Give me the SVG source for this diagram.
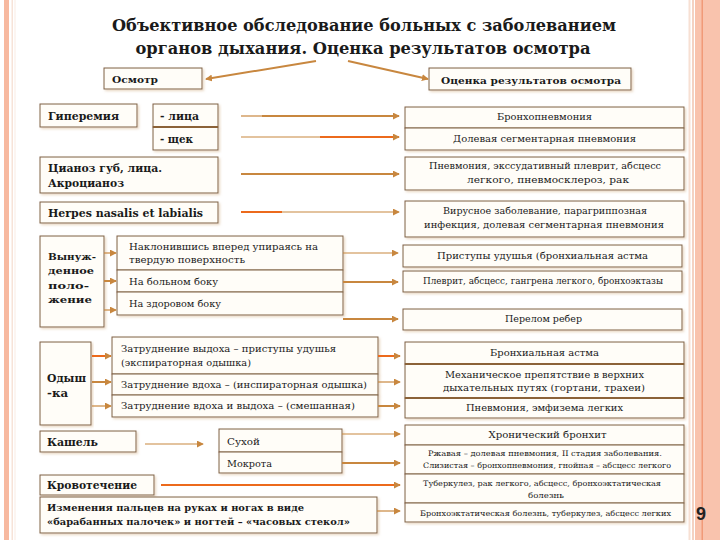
<svg xmlns="http://www.w3.org/2000/svg" width="720" height="540" viewBox="0 0 720 540">
<style>
.box{fill:#fffdf8;stroke:#7d5e40;stroke-width:1;filter:url(#sh)}
.t{font-family:"DejaVu Serif","Liberation Serif",serif;fill:#1a1a1a}
.b{font-weight:bold}
.r{font-size:9.5px}
.m{font-size:10px}
.s{font-size:7.5px}
.l{font-size:11px;font-weight:bold}
.c{text-anchor:middle}
.ln{stroke:#c8873f;stroke-width:2;fill:none}
.or{stroke:#ec6a1c;stroke-width:2;fill:none}
.th{stroke:#c8873f;stroke-width:1.2;fill:none}
.dv{stroke:#8b6238;stroke-width:2}
</style>
<defs>
<marker id="ah" viewBox="0 0 8 8" refX="7" refY="4" markerWidth="7" markerHeight="7" markerUnits="userSpaceOnUse" orient="auto">
<path d="M0,0 L8,4 L0,8 z" fill="#c8873f"/>
</marker>
<filter id="sh" x="-5%" y="-10%" width="110%" height="130%">
<feDropShadow dx="1.5" dy="1.5" stdDeviation="0.8" flood-color="#e6d2bb" flood-opacity="0.9"/>
</filter>
</defs>
<rect x="0" y="0" width="720" height="540" fill="#ffffff"/>
<g id="decor">
<rect x="4" y="0" width="5" height="540" fill="#f7b9a0"/>
<rect x="11.5" y="0" width="1.5" height="540" fill="#f7e3d8"/>
<rect x="14.5" y="0" width="1" height="540" fill="#f9ece4"/>
<rect x="688.5" y="0" width="2" height="540" fill="#f7e0d3"/>
<rect x="692" y="0" width="2" height="540" fill="#f4d2c2"/>
<rect x="695" y="0" width="25" height="540" fill="#f9c3ad"/>
<rect x="701.5" y="0" width="1.5" height="540" fill="#f19a78"/>
<text x="696" y="520" style="font-family:'Liberation Sans',Arial,sans-serif;font-weight:bold;font-size:18px;fill:#222">9</text>
</g>
<g id="title">
<text class="t b" x="364" y="31" text-anchor="middle" font-size="17" textLength="504" lengthAdjust="spacingAndGlyphs">Объективное обследование больных с заболеванием</text>
<text class="t b" x="363" y="54" text-anchor="middle" font-size="17" textLength="455" lengthAdjust="spacingAndGlyphs">органов дыхания. Оценка результатов осмотра</text>
</g>
<g id="n-osmotr"><rect class="box" x="104" y="68" width="98" height="21"/><text class="t b" x="112" y="83" font-size="9.5" textLength="46" lengthAdjust="spacingAndGlyphs">Осмотр</text></g>
<g id="n-ocenka"><rect class="box" x="429" y="68" width="202" height="22"/><text class="t b c" x="531" y="84" font-size="9.5" textLength="180" lengthAdjust="spacingAndGlyphs">Оценка результатов  осмотра</text></g>

<g id="n-giperemia"><rect class="box" x="40" y="104" width="97" height="23"/><text class="t l" x="48" y="120" textLength="71" lengthAdjust="spacingAndGlyphs">Гиперемия</text></g>
<g id="n-lica"><rect class="box" x="153" y="104" width="65" height="23"/><text class="t l" x="160" y="120" textLength="39" lengthAdjust="spacingAndGlyphs">- лица</text></g>
<g id="n-shek"><rect class="box" x="153" y="127" width="65" height="23"/><text class="t l" x="160" y="143" textLength="33" lengthAdjust="spacingAndGlyphs">- щек</text><line class="dv" x1="153" y1="127" x2="218" y2="127"/></g>
<g id="n-cianoz"><rect class="box" x="40" y="157" width="178" height="36"/><text class="t l" x="48" y="172" textLength="114" lengthAdjust="spacingAndGlyphs">Цианоз губ, лица.</text><text class="t l" x="48" y="187" textLength="76" lengthAdjust="spacingAndGlyphs">Акроцианоз</text></g>
<g id="n-herpes"><rect class="box" x="40" y="202" width="178" height="21"/><text class="t l" x="48" y="217" textLength="155" lengthAdjust="spacingAndGlyphs">Herpes nasalis et labialis</text></g>
<g id="n-vynuzh"><rect class="box" x="40" y="236" width="64" height="91"/>
<text class="t b" x="48" y="260" font-size="10" textLength="48" lengthAdjust="spacingAndGlyphs">Вынуж-</text><text class="t b" x="48" y="274" font-size="10" textLength="46" lengthAdjust="spacingAndGlyphs">денное</text><text class="t b" x="48" y="289" font-size="10" textLength="41" lengthAdjust="spacingAndGlyphs">поло-</text><text class="t b" x="48" y="303" font-size="10" textLength="44" lengthAdjust="spacingAndGlyphs">жение</text></g>
<g id="n-naklon"><rect class="box" x="117" y="236" width="226" height="34"/><text class="t m" x="129" y="250" textLength="189" lengthAdjust="spacingAndGlyphs">Наклонившись вперед упираясь на</text><text class="t m" x="129" y="263" textLength="116" lengthAdjust="spacingAndGlyphs">твердую поверхность</text></g>
<g id="n-bolnom"><rect class="box" x="117" y="270" width="226" height="22"/><text class="t m" x="129" y="285" textLength="89" lengthAdjust="spacingAndGlyphs">На больном боку</text></g>
<g id="n-zdorov"><rect class="box" x="117" y="292" width="226" height="23"/><text class="t m" x="129" y="307" textLength="92" lengthAdjust="spacingAndGlyphs">На здоровом боку</text></g>
<g id="n-odyshka"><rect class="box" x="40" y="342" width="51" height="83"/><text class="t l" x="47" y="382" textLength="39" lengthAdjust="spacingAndGlyphs">Одыш</text><text class="t l" x="47" y="397" textLength="21" lengthAdjust="spacingAndGlyphs">-ка</text></g>
<g id="n-vydoh"><rect class="box" x="112" y="337" width="266" height="37"/><text class="t m" x="121" y="352" textLength="215" lengthAdjust="spacingAndGlyphs">Затруднение выдоха – приступы удушья</text><text class="t m" x="121" y="366" textLength="130" lengthAdjust="spacingAndGlyphs">(экспираторная одышка)</text></g>
<g id="n-vdoh"><rect class="box" x="112" y="374" width="266" height="21"/><text class="t m" x="121" y="388" textLength="246" lengthAdjust="spacingAndGlyphs">Затруднение вдоха – (инспираторная одышка)</text></g>
<g id="n-smesh"><rect class="box" x="112" y="395" width="266" height="22"/><text class="t m" x="121" y="409" textLength="234" lengthAdjust="spacingAndGlyphs">Затруднение вдоха  и выдоха – (смешанная)</text></g>
<g id="n-kashel"><rect class="box" x="40" y="431" width="96" height="21"/><text class="t l" x="47" y="446" textLength="51" lengthAdjust="spacingAndGlyphs">Кашель</text></g>
<g id="n-suhoy"><rect class="box" x="219" y="429" width="123" height="23"/><text class="t m" x="227" y="445" textLength="33" lengthAdjust="spacingAndGlyphs">Сухой</text></g>
<g id="n-mokrota"><rect class="box" x="219" y="452" width="123" height="21"/><text class="t m" x="227" y="467" textLength="45" lengthAdjust="spacingAndGlyphs">Мокрота</text></g>
<g id="n-krovo"><rect class="box" x="40" y="475" width="114" height="20"/><text class="t l" x="47" y="489" textLength="90" lengthAdjust="spacingAndGlyphs">Кровотечение</text></g>
<g id="n-izmen"><rect class="box" x="40" y="497" width="337" height="36"/><text class="t b" x="47" y="511" font-size="9.5" textLength="257" lengthAdjust="spacingAndGlyphs">Изменения пальцев на руках и ногах в виде</text><text class="t b" x="47" y="525" font-size="9.5" textLength="303" lengthAdjust="spacingAndGlyphs">«барабанных палочек» и ногтей – «часовых стекол»</text></g>

<g id="n-bronhopn"><rect class="box" x="405" y="107" width="279" height="21"/><text class="t r c" x="544.5" y="120" textLength="95" lengthAdjust="spacingAndGlyphs">Бронхопневмония</text></g>
<g id="n-dolev"><rect class="box" x="405" y="128" width="279" height="22"/><text class="t r c" x="544.5" y="142" textLength="183" lengthAdjust="spacingAndGlyphs">Долевая сегментарная пневмония</text></g>
<g id="n-pnevm"><rect class="box" x="405" y="157" width="279" height="33"/><text class="t r c" x="545" y="169" textLength="232" lengthAdjust="spacingAndGlyphs">Пневмония, экссудативный плеврит, абсцесс</text><text class="t r c" x="548" y="183" textLength="162" lengthAdjust="spacingAndGlyphs">легкого, пневмосклероз, рак</text></g>
<g id="n-virus"><rect class="box" x="405" y="201" width="279" height="36"/><text class="t r c" x="545" y="214" textLength="204" lengthAdjust="spacingAndGlyphs">Вирусное заболевание, парагриппозная</text><text class="t r c" x="544" y="228" textLength="240" lengthAdjust="spacingAndGlyphs">инфекция, долевая сегментарная пневмония</text></g>
<g id="n-pristup"><rect class="box" x="403" y="245" width="279" height="22"/><text class="t r c" x="542.5" y="259" textLength="211" lengthAdjust="spacingAndGlyphs">Приступы удушья (бронхиальная астма</text></g>
<g id="n-plevrit"><rect class="box" x="403" y="271" width="279" height="21"/><text class="t r c" x="543" y="284" textLength="240" lengthAdjust="spacingAndGlyphs">Плеврит, абсцесс, гангрена легкого, бронхоэктазы</text></g>
<g id="n-perelom"><rect class="box" x="403" y="309" width="279" height="21"/><text class="t r c" x="543.5" y="322" textLength="77" lengthAdjust="spacingAndGlyphs">Перелом ребер</text></g>
<g id="n-astma"><rect class="box" x="405" y="342" width="279" height="22"/><text class="t r c" x="544.5" y="356" textLength="109" lengthAdjust="spacingAndGlyphs">Бронхиальная астма</text></g>
<g id="n-meh"><rect class="box" x="405" y="364" width="279" height="34"/><text class="t r c" x="544.5" y="378" textLength="199" lengthAdjust="spacingAndGlyphs">Механическое препятствие в верхних</text><text class="t r c" x="544" y="391" textLength="202" lengthAdjust="spacingAndGlyphs">дыхательных путях (гортани, трахеи)</text><line class="dv" x1="405" y1="364" x2="684" y2="364"/></g>
<g id="n-emfiz"><rect class="box" x="405" y="398" width="279" height="20"/><text class="t r c" x="544.5" y="411" textLength="157" lengthAdjust="spacingAndGlyphs">Пневмония, эмфизема легких</text><line class="dv" x1="405" y1="398" x2="684" y2="398"/></g>
<g id="n-hron"><rect class="box" x="405" y="425" width="279" height="20"/><text class="t r c" x="547.5" y="438" textLength="118" lengthAdjust="spacingAndGlyphs">Хронический бронхит</text></g>
<g id="n-rzhav"><rect class="box" x="405" y="445" width="279" height="29"/><text class="t s c" x="545" y="456" textLength="234" lengthAdjust="spacingAndGlyphs">Ржавая – долевая пневмония, II  стадия заболевания.</text><text class="t s c" x="547" y="468" textLength="248" lengthAdjust="spacingAndGlyphs">Слизистая – бронхопневмония, гнойная – абсцесс легкого</text></g>
<g id="n-tuberk"><rect class="box" x="405" y="474" width="279" height="29"/><text class="t s c" x="542" y="486" textLength="238" lengthAdjust="spacingAndGlyphs">Туберкулез, рак легкого, абсцесс, бронхоэктатическая</text><text class="t s c" x="546" y="498" textLength="36" lengthAdjust="spacingAndGlyphs">болезнь</text></g>
<g id="n-bronhoekt"><rect class="box" x="405" y="503" width="279" height="19"/><text class="t s c" x="545.5" y="516" textLength="251" lengthAdjust="spacingAndGlyphs">Бронхоэктатическая болезнь, туберкулез, абсцесс легких</text></g>

<g id="connectors">
<line class="ln" x1="316" y1="61" x2="206" y2="79" marker-end="url(#ah)"/>
<line class="ln" x1="348" y1="61" x2="428" y2="79" marker-end="url(#ah)"/>
<line class="th" x1="241" y1="116" x2="262" y2="116"/><line class="ln" x1="262" y1="116" x2="399" y2="116" marker-end="url(#ah)"/>
<line class="th" x1="241" y1="137" x2="320" y2="137"/><line class="or" x1="320" y1="137" x2="399" y2="137" marker-end="url(#ah)"/>
<line class="ln" x1="241" y1="174" x2="399" y2="174" marker-end="url(#ah)"/>
<line class="or" x1="241" y1="212" x2="282" y2="212"/><line class="th" x1="282" y1="212" x2="399" y2="212" marker-end="url(#ah)"/>
<line class="th" x1="104" y1="253" x2="116" y2="253" marker-end="url(#ah)"/>
<line class="ln" x1="104" y1="281" x2="116" y2="281" marker-end="url(#ah)"/>
<line class="th" x1="104" y1="310" x2="116" y2="310" marker-end="url(#ah)"/>
<line class="th" x1="343" y1="253" x2="398" y2="253" marker-end="url(#ah)"/>
<line class="ln" x1="343" y1="282" x2="398" y2="282" marker-end="url(#ah)"/>
<line class="ln" x1="343" y1="319" x2="398" y2="319" marker-end="url(#ah)"/>
<line class="or" x1="92" y1="356" x2="111" y2="356" marker-end="url(#ah)"/>
<line class="ln" x1="92" y1="382" x2="111" y2="382" marker-end="url(#ah)"/>
<line class="th" x1="92" y1="406" x2="111" y2="406" marker-end="url(#ah)"/>
<line class="or" x1="378" y1="356" x2="400" y2="356" marker-end="url(#ah)"/>
<line class="th" x1="378" y1="382" x2="400" y2="382" marker-end="url(#ah)"/>
<line class="ln" x1="378" y1="406" x2="400" y2="406" marker-end="url(#ah)"/>
<line class="th" x1="145" y1="444" x2="203" y2="444" marker-end="url(#ah)"/>
<line class="th" x1="342" y1="434" x2="400" y2="434" marker-end="url(#ah)"/>
<line class="ln" x1="342" y1="463" x2="400" y2="463" marker-end="url(#ah)"/>
<line class="or" x1="161" y1="485" x2="400" y2="485" marker-end="url(#ah)"/>
<line class="th" x1="377" y1="511" x2="400" y2="511" marker-end="url(#ah)"/>
</g>
</svg>
